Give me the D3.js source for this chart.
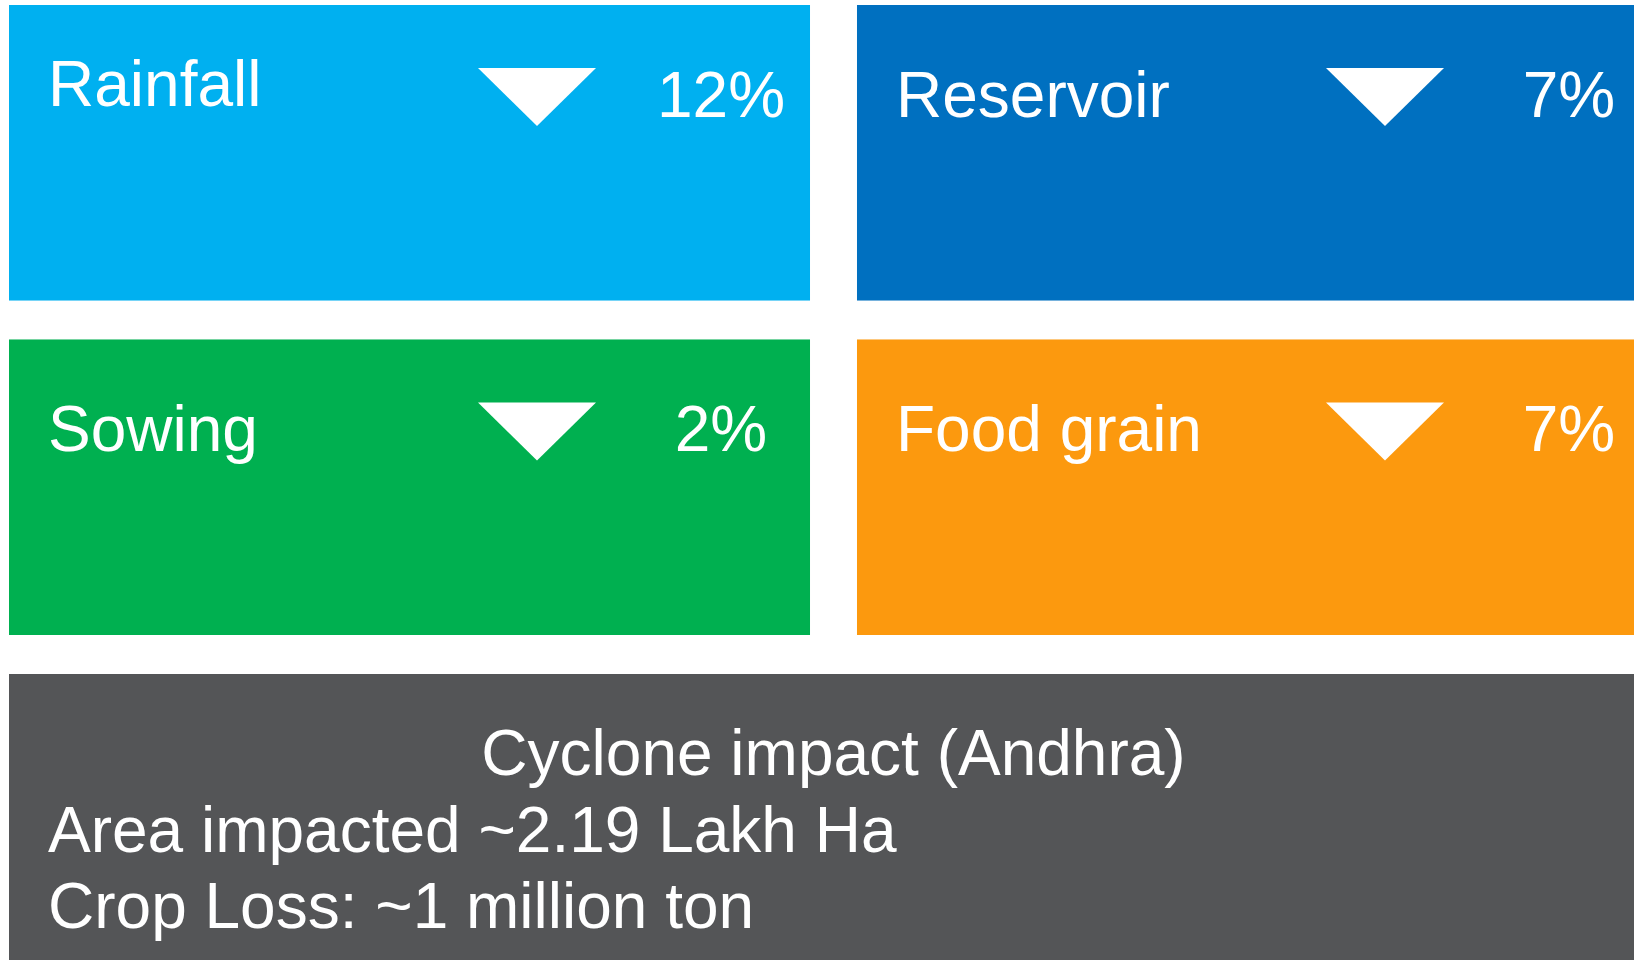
<!DOCTYPE html>
<html>
<head>
<meta charset="utf-8">
<script src="https://cdn.jsdelivr.net/npm/d3@7"></script>
<style>
  html, body { margin: 0; padding: 0; background: #ffffff; overflow: hidden; }
  svg { display: block; }
  text { font-family: "Liberation Sans", Arial, sans-serif; fill: #ffffff; }
</style>
</head>
<body>
<svg id="chart" width="1634" height="960"></svg>
<script>
// ---- data ----
const categories = ["Rainfall", "Reservoir", "Sowing", "Food grain"];
const changeValues = [12, 7, 2, 7];            // % change (decline)
const changeDirections = ["down", "down", "down", "down"];
const impactTitle = "Cyclone impact (Andhra)";
const impactLines = ["Area impacted ~2.19 Lakh Ha", "Crop Loss: ~1 million ton"];

// ---- style ----
const tileColors = ["#00B0F0", "#0070C0", "#00B050", "#FC990E"];
const impactColor = "#545557";

const W = 1634, H = 960;
const svg = d3.select("#chart");

const color = d3.scaleOrdinal().domain(categories).range(tileColors);

const cols = d3.scaleBand().domain([0, 1]).range([9, 1658]).paddingInner(0.0554).paddingOuter(0);
const rows = d3.scaleBand().domain([0, 1]).range([5, 635]).paddingInner(0.1164).paddingOuter(0);

const tiles = categories.map((c, i) => ({
  name: c,
  value: changeValues[i],
  dir: changeDirections[i],
  col: i % 2,
  row: Math.floor(i / 2),
  idx: i
}));

const g = svg.selectAll("g.tile").data(tiles).join("g")
  .attr("class", "tile")
  .attr("transform", d => `translate(${cols(d.col)},${rows(d.row)})`);

g.append("rect")
  .attr("width", cols.bandwidth())
  .attr("height", rows.bandwidth())
  .attr("fill", d => color(d.name));

g.append("text")
  .attr("x", 39)
  .attr("y", d => d.idx === 0 ? 100.5 : 111.5)
  .attr("font-size", 64)
  .text(d => d.name);

const tri = (d) => {
  const p = d3.path();
  if (d.dir === "down") {
    p.moveTo(469, 63); p.lineTo(587, 63); p.lineTo(528, 121);
  } else {
    p.moveTo(469, 121); p.lineTo(587, 121); p.lineTo(528, 63);
  }
  p.closePath();
  return p.toString();
};

g.append("path")
  .attr("d", tri)
  .attr("fill", "#ffffff");

g.append("text")
  .attr("x", 712)
  .attr("y", 111.7)
  .attr("text-anchor", "middle")
  .attr("font-size", 64)
  .text(d => d.value + "%");

// ---- bottom impact panel ----
const bx = cols.range()[0], bw = cols.range()[1] - cols.range()[0];
const by = 674;
const panel = svg.append("g").attr("transform", `translate(${bx},${by})`);
panel.append("rect")
  .attr("width", bw)
  .attr("height", H - by + 10)
  .attr("fill", impactColor);

panel.append("text")
  .attr("x", bw / 2)
  .attr("y", 101)
  .attr("text-anchor", "middle")
  .attr("font-size", 64)
  .text(impactTitle);

panel.selectAll("text.line").data(impactLines).join("text")
  .attr("class", "line")
  .attr("x", 39)
  .attr("y", (d, i) => 177.7 + i * 76.5)
  .attr("font-size", 64)
  .text(d => d);
</script>
</body>
</html>
